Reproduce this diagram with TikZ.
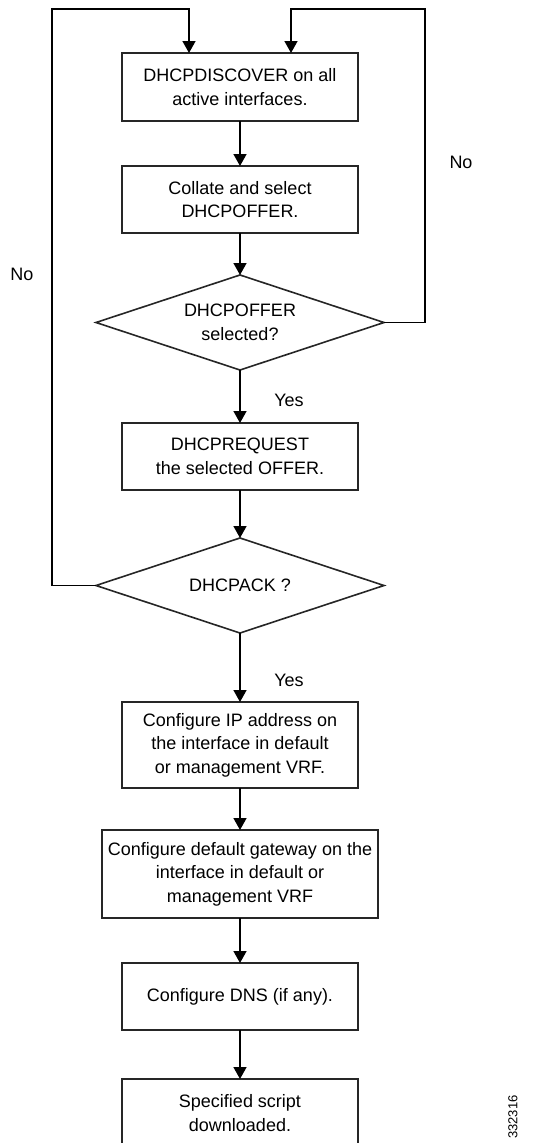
\documentclass[tikz,border=0pt]{standalone}
\usepackage{fontspec}
\setmainfont{Liberation Sans}
\usetikzlibrary{positioning,shapes.geometric,arrows.meta}

\begin{document}
\begin{tikzpicture}[x=1pt,y=-1pt,
    font=\fontsize{18}{23.5}\selectfont,
    stepbox/.style={draw, line width=1.6pt, draw=black!85, align=center,
        inner sep=0pt, outer sep=0pt, minimum width=236pt},
    decide/.style={diamond, draw, line width=1.6pt, draw=black!85, align=center,
        inner sep=0pt, outer sep=0pt, aspect=3, minimum width=288pt, minimum height=95pt},
    arr/.style={-{Triangle[length=12pt,width=13pt]}, line width=1.6pt}]
\useasboundingbox (0,0) rectangle (547,1143);

\node[stepbox, minimum height=68pt] (disc) at (240,87)
    {DHCPDISCOVER on all\\active interfaces.};
\node[stepbox, minimum height=67pt, below=45pt of disc] (coll)
    {Collate and select\\DHCPOFFER.};
\node[decide, below=42pt of coll] (offer)
    {DHCPOFFER\\selected?};
\node[stepbox, minimum height=67pt, below=53pt of offer] (req)
    {DHCPREQUEST\\the selected OFFER.};
\node[decide, below=48pt of req] (ack)
    {DHCPACK ?};
\node[stepbox, minimum height=86pt, below=69pt of ack] (ipcfg)
    {Configure IP address on\\the interface in default\\or management VRF.};
\node[stepbox, minimum width=276pt, minimum height=88pt, below=42pt of ipcfg] (gwcfg)
    {Configure default gateway on the\\interface in default or\\management VRF};
\node[stepbox, minimum height=67pt, below=45pt of gwcfg] (dnscfg)
    {Configure DNS (if any).};
\node[stepbox, minimum height=68pt, below=49pt of dnscfg] (script)
    {Specified script\\downloaded.};

\coordinate (lt) at (52,9);
\coordinate (rt) at (425,9);

\draw[arr] (disc) -- (coll);
\draw[arr] (coll) -- (offer);
\draw[arr] (offer) -- (req);
\draw[arr] (req) -- (ack);
\draw[arr] (ack) -- (ipcfg);
\draw[arr] (ipcfg) -- (gwcfg);
\draw[arr] (gwcfg) -- (dnscfg);
\draw[arr] (dnscfg) -- (script);

\draw[arr] (ack.west) -| (lt) -| ([xshift=-51pt]disc.north);
\draw[arr] (offer.east) -| (rt) -| ([xshift=51pt]disc.north);

\node (no1) at (22,274) {No};
\node (no2) at (461,162) {No};
\node (yes1) at (289,400) {Yes};
\node (yes2) at (289,680) {Yes};

\node[rotate=90, font=\fontsize{13}{15}\selectfont] (fig) at (513,1117) {332316};

\end{tikzpicture}
\end{document}
